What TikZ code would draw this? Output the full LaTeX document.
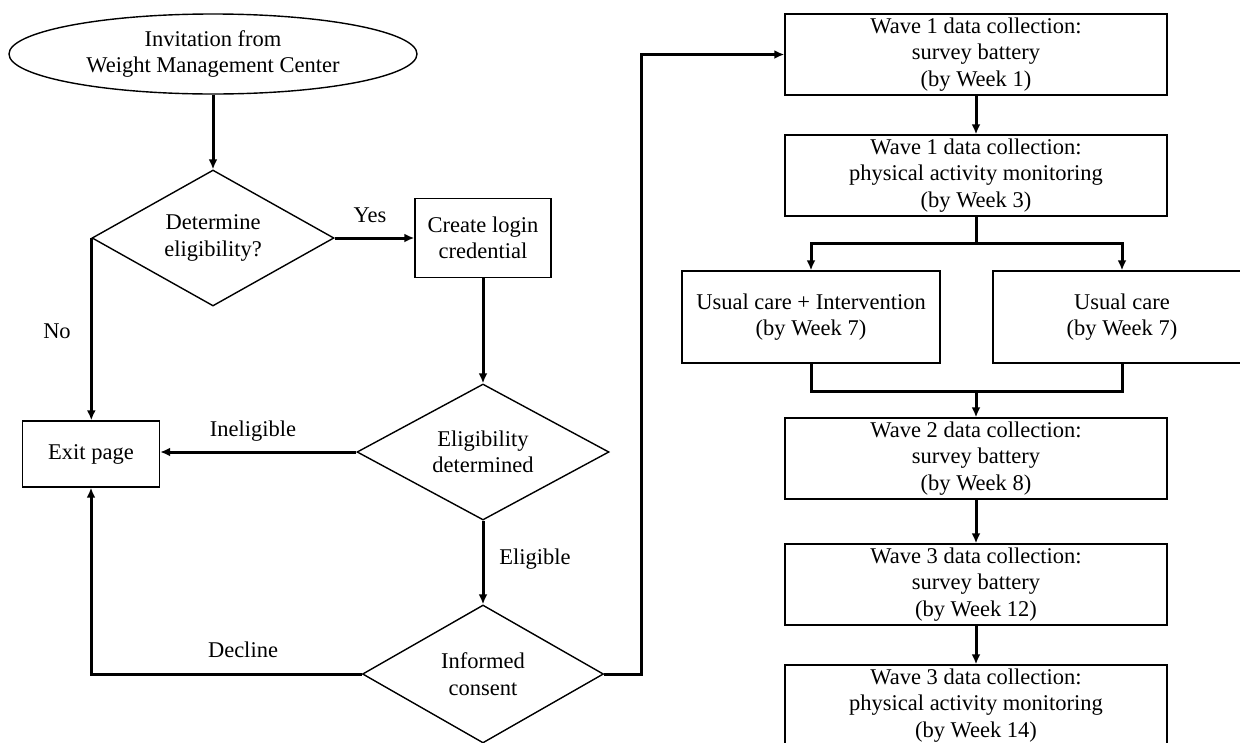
\documentclass[tikz,border=0pt]{standalone}
\usepackage{fontspec}
\setmainfont{Liberation Serif}
\usetikzlibrary{shapes.geometric,arrows.meta}
\begin{document}
\begin{tikzpicture}[x=1pt,y=-1pt,
  every node/.style={font=\fontsize{22.5}{26.5}\selectfont, align=center, inner sep=0pt},
  box/.style={draw, line width=1.4pt, rectangle},
  wbox/.style={box, minimum width=382pt, minimum height=81pt},
  gbox/.style={box, minimum width=258pt, minimum height=92pt},
  dia/.style={draw, line width=1.4pt, diamond, aspect=1.8, minimum width=242pt, minimum height=136pt},
  ell/.style={draw, line width=1.4pt, ellipse, minimum width=408pt, minimum height=80pt},
  arr/.style={line width=3pt, -{Latex[length=10pt,width=9pt]}},
  ln/.style={line width=3pt}]
\useasboundingbox (0,0) rectangle (1240,742);
\clip (0,0) rectangle (1240,742);

% left column
\node[ell] (inv) at (213,54) {Invitation from\\Weight Management Center};
\node[dia] (det) at (213,238) {Determine\\eligibility?};
\node[box, minimum width=136pt, minimum height=79pt] (login) at (483,238) {Create login\\credential};
\node[box, minimum width=137pt, minimum height=66pt] (exit) at (91,454) {Exit page};
\node[dia, minimum width=252pt] (eld) at (483,452) {Eligibility\\determined};
\node[dia, minimum width=241pt, minimum height=138pt] (ic) at (483,674) {Informed\\consent};

% right column
\node[wbox] (w1s) at (976,54.5) {Wave 1 data collection:\\survey battery\\(by Week 1)};
\node[wbox] (w1p) at (976,175.5) {Wave 1 data collection:\\physical activity monitoring\\(by Week 3)};
\node[gbox] (uci) at (811,317) {Usual care + Intervention\\(by Week 7)};
\node[gbox] (uc) at (1122,317) {Usual care\\(by Week 7)};
\node[wbox] (w2) at (976,458.5) {Wave 2 data collection:\\survey battery\\(by Week 8)};
\node[wbox] (w3s) at (976,584.5) {Wave 3 data collection:\\survey battery\\(by Week 12)};
\node[wbox] (w3p) at (976,705.5) {Wave 3 data collection:\\physical activity monitoring\\(by Week 14)};

% labels
\node (yes) at (370,215) {Yes};
\node (no) at (57,331) {No};
\node (inel) at (253,431) {Ineligible};
\node (elig) at (535,559) {Eligible};
\node (decl) at (243,650) {Decline};

% connectors
\draw[arr] (inv) -- (det);
\draw[arr] (det.east) -- (login.west);
\draw[arr] (login) -- (eld);
\draw[arr] (det.west) -- (det.west |- exit.north);
\draw[arr] (eld.west) -- (exit.east |- eld.west);
\draw[arr] (eld) -- (ic);
\draw[arr] (ic.west) -| (exit.south);
\coordinate (turn) at (641,674);
\draw[arr] (ic.east) -- (turn) |- (w1s.west);

\draw[arr] (w1s) -- (w1p);
\coordinate (split) at (976,243);
\draw[ln] (w1p.south) -- (split);
\draw[arr] (split) -| (uci.north);
\draw[arr] (split) -| (uc.north);
\coordinate (merge) at (976,391);
\draw[ln] (uci.south) |- (merge);
\draw[ln] (uc.south) |- (merge);
\draw[arr] (merge) -- (w2);
\draw[arr] (w2) -- (w3s);
\draw[arr] (w3s) -- (w3p);
\end{tikzpicture}
\end{document}
